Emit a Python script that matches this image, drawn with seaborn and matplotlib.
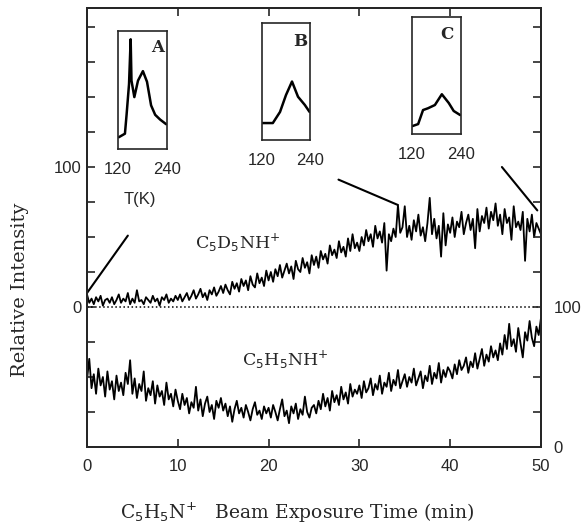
import numpy as np
import seaborn as sns
import matplotlib.pyplot as plt

# time grid of the two ion traces (min)
time = np.arange(201) * 0.25

# C5D5NH+ trace, left axis
d5_signal = [
    9, 3, 6, 2, 7, 4, 8, 1, 5, 6, 3, 7, 2, 5, 9, 3, 6, 4, 10, 2,
    6, 3, 12, 4, 5, 2, 7, 5, 3, 8, 4, 6, 1, 7, 5, 9, 3, 6, 4, 8,
    5, 9, 4, 7, 10, 5, 8, 12, 6, 9, 13, 7, 10, 5, 12, 9, 14, 8, 11, 15,
    10, 16, 12, 9, 18, 13, 17, 11, 20, 15, 19, 12, 22, 16, 14, 24, 17, 21, 15, 26,
    19, 25, 18, 27, 22, 30, 21, 26, 31, 24, 29, 20, 33, 27, 25, 35, 28, 32, 24, 37,
    30, 36, 28, 40, 34, 38, 31, 44, 37, 41, 35, 47, 39, 43, 36, 49, 40, 52, 42, 46,
    40, 50, 44, 55, 47, 52, 43, 58, 49, 54, 46, 60, 26, 52, 47, 56, 50, 73, 53, 57,
    72, 50, 58, 48, 62, 54, 66, 51, 57, 47, 60, 78, 52, 63, 49, 58, 36, 67, 44, 59,
    53, 64, 50, 61, 57, 68, 52, 60, 66, 55, 63, 42, 70, 54, 65, 60, 71, 56, 68, 62,
    74, 58, 66, 52, 70, 60, 64, 48, 72, 57, 61, 55, 68, 33, 63, 54, 66, 50, 60, 56,
    52,
]

# C5H5NH+ trace, right axis
h5_signal = [
    48, 63, 42, 52, 38, 56, 44, 50, 36, 54, 41, 47, 34, 51, 40, 46, 37, 53, 45, 62,
    38, 49, 35, 45, 40, 54, 33, 42, 37, 47, 31, 44, 36, 40, 30, 46, 34, 38, 29, 41,
    33, 27, 38, 30, 35, 24, 32, 28, 43, 26, 34, 22, 31, 36, 25, 30, 20, 33, 28, 35,
    26, 31, 22, 29, 18, 27, 33, 24, 28, 21, 30, 25, 19, 27, 32, 23, 26, 20, 29, 24,
    28, 21, 30, 25, 19, 27, 34, 22, 26, 17, 29, 24, 31, 20, 27, 23, 36, 25, 21, 28,
    30, 24, 33, 27, 38, 29, 35, 26, 40, 32, 37, 30, 43, 34, 39, 31, 45, 36, 41, 38,
    44, 35, 47, 39, 42, 49, 37, 45, 41, 51, 38, 46, 43, 53, 40, 48, 44, 55, 42, 47,
    52, 43, 50, 46, 56, 44, 49, 54, 42, 51, 47, 58, 45, 53, 49, 60, 46, 55, 50, 57,
    54, 49, 59, 52, 62, 55, 58, 64, 53, 61, 57, 67, 56, 63, 70, 58, 66, 61, 72, 64,
    69, 62, 74, 66, 80, 70, 88, 72, 77, 68, 85, 74, 64, 82, 76, 90, 78, 72, 86, 80,
    92,
]

# TPD insets (normalised intensity vs T in K)
tpd_a_temp = [122, 137, 141, 147, 151, 153, 160, 169, 181, 191, 201, 211, 223, 238]
tpd_a_int = [0.10, 0.13, 0.29, 0.55, 0.93, 0.58, 0.44, 0.58, 0.66, 0.57, 0.37, 0.29, 0.25, 0.21]
tpd_b_temp = [121, 147, 165, 180, 195, 210, 227, 239]
tpd_b_int = [0.145, 0.145, 0.24, 0.385, 0.50, 0.37, 0.30, 0.24]
tpd_c_temp = [121, 135, 147, 159, 176, 193, 210, 222, 238]
tpd_c_int = [0.068, 0.085, 0.205, 0.22, 0.248, 0.34, 0.265, 0.197, 0.162]

# pointer lines from insets to the trace (min, left-axis units)
pointers = {
    "A": ([0.0, 4.5], [10, 51]),
    "B": ([27.7, 34.2], [91, 73]),
    "C": ([45.7, 49.6], [100, 69]),
}

sns.set_style("ticks")
plt.rcParams["font.family"] = ["Liberation Sans", "DejaVu Sans"]
serif = "DejaVu Serif"

fig = plt.figure(figsize=(5.85, 5.26), dpi=100)
ax = fig.add_axes([0.1487, 0.1502, 0.776, 0.8346])
ax2 = ax.twinx()

sns.lineplot(x=time, y=d5_signal, ax=ax, color="black", lw=1.3)
sns.lineplot(x=time, y=h5_signal, ax=ax2, color="black", lw=1.3)
ax.axhline(0, color="black", ls=":", lw=1.1)

ax.set_xlim(0, 50)
ax.set_ylim(-100, 213.6)
ax2.set_ylim(0, 313.6)
ax.set_xticks([0, 10, 20, 30, 40, 50])
left_ticks = np.arange(-100, 214, 25)
ax.set_yticks(left_ticks)
ax.set_yticklabels(["0" if v == 0 else "100" if v == 100 else "" for v in left_ticks])
right_ticks = np.arange(0, 314, 25)
ax2.set_yticks(right_ticks)
ax2.set_yticklabels(["0" if v == 0 else "100" if v == 100 else "" for v in right_ticks])

ax.tick_params(axis="x", direction="in", length=6, width=1.2, pad=9,
               labelsize=12, top=True)
ax.tick_params(axis="y", direction="in", length=6, width=1.2, pad=4, labelsize=12)
ax2.tick_params(axis="y", direction="in", length=6, width=1.2, pad=9, labelsize=12)
for a in (ax, ax2):
    for s in a.spines.values():
        s.set_visible(True)
        s.set_linewidth(1.4)
ax.set_xlabel("")
ax.set_ylabel("")

for name, (xs, ys) in pointers.items():
    ax.plot(xs, ys, color="black", lw=1.5)

ax.text(11.9, 46, r"C$_5$D$_5$NH$^{+}$", fontsize=12.5, family=serif, va="center")
ax.text(17.1, -38, r"C$_5$H$_5$NH$^{+}$", fontsize=12.5, family=serif, va="center")

fig.text(20 / 585, 1 - 290 / 526, "Relative Intensity", rotation=90,
         ha="center", va="center", fontsize=14, family=serif)
fig.text(297 / 585, 1 - 513 / 526,
         r"C$_5$H$_5$N$^{+}$   Beam Exposure Time (min)",
         ha="center", va="center", fontsize=13.5, family=serif)

insets = [
    ("A", [0.2017, 0.7167, 0.0838, 0.2243], tpd_a_temp, tpd_a_int, (0.80, 0.86)),
    ("B", [0.4479, 0.7338, 0.0820, 0.2224], tpd_b_temp, tpd_b_int, (0.80, 0.84)),
    ("C", [0.7043, 0.7452, 0.0838, 0.2224], tpd_c_temp, tpd_c_int, (0.72, 0.85)),
]
for label, rect, temp, inten, pos in insets:
    ins = fig.add_axes(rect)
    sns.lineplot(x=temp, y=inten, ax=ins, color="black", lw=1.8)
    ins.set_xlim(120, 240)
    ins.set_ylim(0, 1)
    ins.set_xticks([120, 240])
    ins.set_yticks([])
    ins.tick_params(axis="x", length=0, pad=9, labelsize=12)
    ins.set_xlabel("")
    ins.set_ylabel("")
    for s in ins.spines.values():
        s.set_visible(True)
        s.set_linewidth(1.2)
    ins.text(pos[0], pos[1], label, transform=ins.transAxes, ha="center",
             va="center", fontsize=12, family=serif, fontweight="bold")
    if label == "A":
        ins.text(0.45, -0.43, "T(K)", transform=ins.transAxes, ha="center",
                 va="center", fontsize=12)

fig.savefig("out.png", dpi=100)
